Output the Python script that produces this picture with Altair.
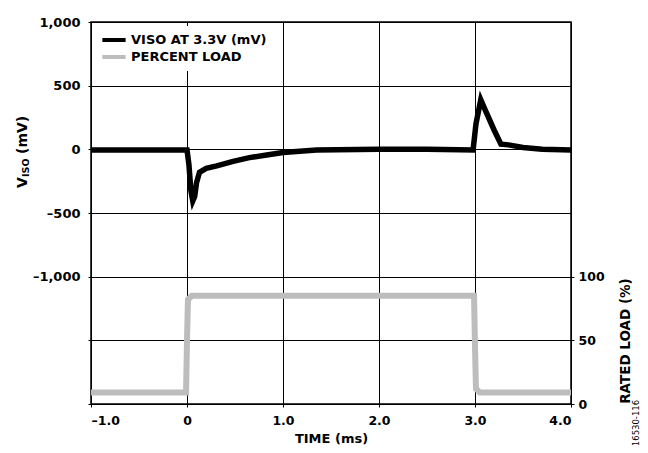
import altair as alt
import pandas as pd

# ---- data ----
series_names = ["VISO AT 3.3V (mV)", "PERCENT LOAD"]
series_colors = ["#000000", "#bdbdbd"]

t_viso = [-1.0, -0.5, 0.0, 0.02, 0.04, 0.06, 0.08, 0.10, 0.13, 0.20, 0.31, 0.48,
          0.65, 0.83, 1.0, 1.35, 2.0, 2.5, 2.98, 3.01, 3.06, 3.10, 3.20, 3.27,
          3.35, 3.50, 3.70, 4.0]
v_viso = [-5, -5, -5, -120, -320, -405, -370, -260, -180, -150, -130, -95,
          -65, -45, -25, -5, 0, 0, -5, 200, 390, 320, 150, 40,
          35, 15, 0, -5]

t_load = [-1.0, -0.01, 0.0, 0.01, 0.05, 2.99, 3.0, 3.01, 3.05, 4.0]
p_load = [9, 9, 50, 82, 85, 85, 45, 12, 9, 9]

x_ticks = [-1, 0, 1, 2, 3, 4]
y_left_ticks = [-2000, -1500, -1000, -500, 0, 500, 1000]
y_right_ticks = [0, 50, 100]

FONT = "DejaVu Sans"

df_v = pd.DataFrame({"t": t_viso, "v": v_viso, "series": series_names[0]})
df_p = pd.DataFrame({"t": t_load, "p": p_load, "series": series_names[1]})

color = alt.Color(
    "series:N",
    scale=alt.Scale(domain=series_names, range=series_colors),
    legend=alt.Legend(
        title=None,
        orient="none",
        legendX=2,
        legendY=4,
        fillColor="white",
        padding=7,
        symbolType="stroke",
        symbolSize=540,
        symbolStrokeWidth=4,
        clipHeight=14,
        rowPadding=3,
        labelFont=FONT,
        labelFontSize=13,
        labelFontWeight="bold",
        labelColor="black",
        labelOffset=3,
    ),
)

x_enc = alt.X(
    "t:Q",
    scale=alt.Scale(domain=[-1, 4], nice=False, zero=False),
    axis=alt.Axis(
        values=x_ticks,
        title="TIME (ms)",
        labelExpr="datum.value == 0 ? '0' : (datum.value < 0 ? '–' : '') + format(abs(datum.value), '.1f')",
        grid=True,
        gridColor="black",
        gridWidth=1,
        gridOpacity=1,
        domain=False,
        tickSize=3,
        tickColor="black",
        labelPadding=7,
        titlePadding=6,
    ),
)

load_layer = alt.Chart(df_p).mark_line(strokeWidth=6, interpolate="linear").encode(
    x=x_enc,
    y=alt.Y(
        "p:Q",
        scale=alt.Scale(domain=[0, 300], nice=False),
        axis=alt.Axis(
            orient="right",
            values=y_right_ticks,
            title=None,
            grid=False,
            domain=False,
            tickSize=3,
            tickColor="black",
            labelPadding=4,
        ),
    ),
    color=color,
)

viso_layer = alt.Chart(df_v).mark_line(strokeWidth=5.5, interpolate="linear").encode(
    x=alt.X("t:Q"),
    y=alt.Y(
        "v:Q",
        scale=alt.Scale(domain=[-2000, 1000], nice=False),
        axis=alt.Axis(
            orient="left",
            values=y_left_ticks,
            title=None,
            labelExpr="datum.value < -1000 ? '' : (datum.value < 0 ? '–' : '') + format(abs(datum.value), ',')",
            labelFontSize=13,
            grid=True,
            gridColor="black",
            gridWidth=1,
            gridOpacity=1,
            domain=False,
            tickSize=3,
            tickColor="black",
            labelPadding=8,
        ),
    ),
    color=color,
)


def label(text, x, y, size, weight="bold", angle=270, align="left"):
    return alt.Chart(pd.DataFrame({"s": [text]})).mark_text(
        text=text, font=FONT, fontSize=size, fontWeight=weight, angle=angle,
        align=align, baseline="alphabetic", color="black",
    ).encode(x=alt.value(x), y=alt.value(y))


title_v = label("V", -64, 166, 14)
title_iso = label("ISO", -62, 155, 9.5)
title_mv = label("(mV)", -64, 132, 14)
title_right = label("RATED LOAD (%)", 539, 319, 13.5, align="center")
fig_id = label("16530-116", 548, 401, 8.5, weight="normal", align="center")

chart = (
    alt.layer(load_layer, viso_layer, title_v, title_iso, title_mv, title_right, fig_id)
    .resolve_scale(y="independent")
    .properties(
        width=480,
        height=382,
        autosize=alt.AutoSizeParams(type="none"),
        padding={"left": 83, "top": 14, "right": 69, "bottom": 41},
    )
    .configure_view(stroke="black", strokeWidth=1.5)
    .configure_axis(
        labelFont=FONT,
        labelFontSize=12.5,
        labelFontWeight="bold",
        labelColor="black",
        titleFont=FONT,
        titleFontSize=13,
        titleFontWeight="bold",
        titleColor="black",
    )
)

chart.save("out.html", embed_options={"renderer": "svg", "actions": False})
